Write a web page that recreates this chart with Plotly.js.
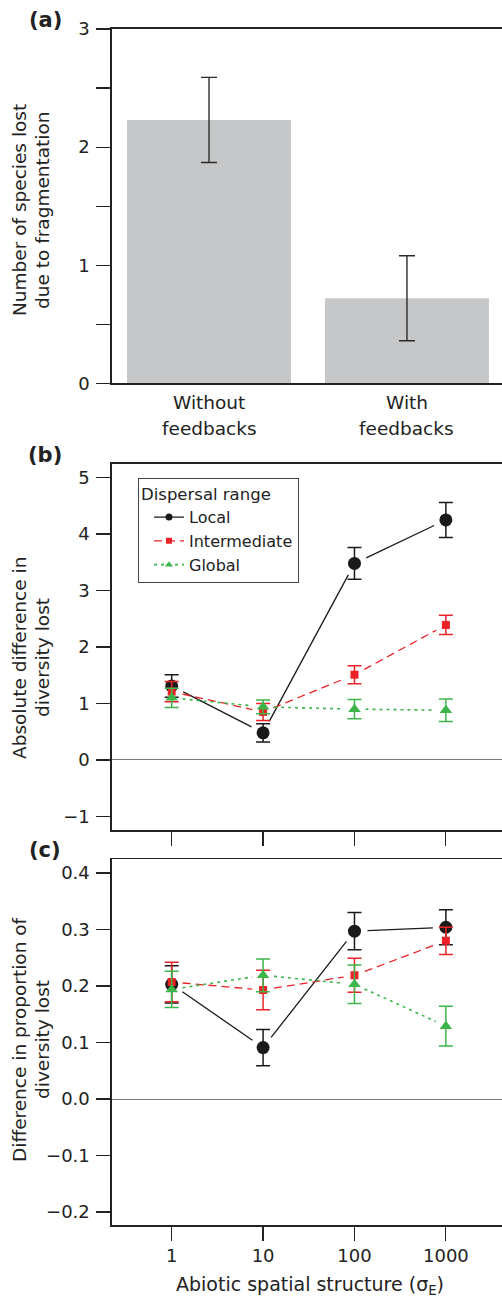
<!DOCTYPE html>
<html>
<head>
<meta charset="utf-8">
<script src="https://cdn.plot.ly/plotly-3.0.1.min.js"></script>
<style>
  html, body { margin: 0; padding: 0; background: #fff; overflow: hidden; }
  #chart { width: 502px; height: 1297px; }
</style>
</head>
<body>
<div id="chart"></div>
<script>
// ---------- data ----------
const barCats = ['Without feedbacks', 'With feedbacks'];
const barCatLines = [['Without', 'feedbacks'], ['With', 'feedbacks']];
const barVals = [2.23, 0.72];
const barErr = [0.36, 0.36];

const sigmaE = [1, 10, 100, 1000];
const sigmaLabels = ['1', '10', '100', '1000'];

const absLocal = [1.31, 0.48, 3.48, 4.25];
const absLocalErr = [0.20, 0.16, 0.28, 0.31];
const absInter = [1.21, 0.85, 1.51, 2.39];
const absInterErr = [0.18, 0.15, 0.16, 0.17];
const absGlobal = [1.10, 0.94, 0.90, 0.88];
const absGlobalErr = [0.17, 0.12, 0.17, 0.20];

const propLocal = [0.203, 0.091, 0.297, 0.304];
const propLocalErr = [0.033, 0.032, 0.033, 0.031];
const propInter = [0.207, 0.193, 0.219, 0.280];
const propInterErr = [0.035, 0.035, 0.030, 0.024];
const propGlobal = [0.194, 0.219, 0.203, 0.129];
const propGlobalErr = [0.032, 0.029, 0.034, 0.035];

const seriesNames = ['Local', 'Intermediate', 'Global'];

// ---------- layout geometry ----------
const W = 502, H = 1297;
const FONT = 'DejaVu Sans, Arial, sans-serif';
const INK = '#222222';
const xDom = [112 / W, 1];
const domA = [1 - 383.3 / H, 1 - 29 / H];
const domB = [1 - 830 / H, 1 - 464 / H];
const domC = [1 - 1225 / H, 1 - 859.3 / H];
const xRangeA = [-0.49, 1.48];
const xRangeLog = [-0.653, 3.614];
const yRangeB = [-1.24, 5.24];
const yRangeC = [-0.223, 0.4243];

const colors = { Local: '#1a1a1a', Intermediate: '#ec2227', Global: '#3db54a' };
const dashes = { Local: 'solid', Intermediate: '8px,5px', Global: '3px,4px' };
const symbols = { Local: 'circle', Intermediate: 'square', Global: 'triangle-up' };
const msize = { Local: 13, Intermediate: 8, Global: 11 };
const gaps = { Local: 13, Intermediate: 11, Global: 11 };

// shorten each line segment near the points (type="b" look)
function gapped(xs, ys, yr, dom, gap) {
  const pw = W * (xDom[1] - xDom[0]);
  const ph = H * (dom[1] - dom[0]);
  const xr = xRangeLog;
  const ox = [], oy = [];
  for (let i = 0; i < xs.length - 1; i++) {
    const p0x = (Math.log10(xs[i]) - xr[0]) / (xr[1] - xr[0]) * pw;
    const p0y = (ys[i] - yr[0]) / (yr[1] - yr[0]) * ph;
    const p1x = (Math.log10(xs[i + 1]) - xr[0]) / (xr[1] - xr[0]) * pw;
    const p1y = (ys[i + 1] - yr[0]) / (yr[1] - yr[0]) * ph;
    const dx = p1x - p0x, dy = p1y - p0y;
    const L = Math.hypot(dx, dy);
    if (L <= 2 * gap) continue;
    const ux = dx / L, uy = dy / L;
    const pts = [[p0x + ux * gap, p0y + uy * gap], [p1x - ux * gap, p1y - uy * gap]];
    pts.forEach(p => {
      ox.push(Math.pow(10, xr[0] + p[0] / pw * (xr[1] - xr[0])));
      oy.push(yr[0] + p[1] / ph * (yr[1] - yr[0]));
    });
    ox.push(null); oy.push(null);
  }
  return { x: ox, y: oy };
}

const traces = [];

// panel (a) bars
traces.push({
  type: 'bar', x: barCats, y: barVals, xaxis: 'x', yaxis: 'y',
  width: 0.828, marker: { color: '#c6c7c9', line: { width: 0 } },
  error_y: { type: 'data', array: barErr, color: '#2a2a2a', thickness: 1.4, width: 8 },
  showlegend: false, hoverinfo: 'skip'
});

function addPanel(vals, errs, yr, dom, xa, ya) {
  seriesNames.forEach((nm, k) => {
    const g = gapped(sigmaE, vals[k], yr, dom, gaps[nm]);
    traces.push({
      type: 'scatter', mode: 'lines', x: g.x, y: g.y, xaxis: xa, yaxis: ya,
      line: { color: colors[nm], width: nm === 'Global' ? 1.6 : 1.3, dash: dashes[nm] },
      connectgaps: false, showlegend: false, hoverinfo: 'skip'
    });
  });
  seriesNames.forEach((nm, k) => {
    traces.push({
      type: 'scatter', mode: 'markers', x: sigmaE, y: vals[k], xaxis: xa, yaxis: ya,
      marker: { color: colors[nm], symbol: symbols[nm], size: msize[nm], line: { width: 0 } },
      error_y: { type: 'data', array: errs[k], color: colors[nm], thickness: 1.5, width: 7 },
      showlegend: false, hoverinfo: 'skip'
    });
  });
}

addPanel([absLocal, absInter, absGlobal], [absLocalErr, absInterErr, absGlobalErr], yRangeB, domB, 'x2', 'y2');
addPanel([propLocal, propInter, propGlobal], [propLocalErr, propInterErr, propGlobalErr], yRangeC, domC, 'x3', 'y3');

// legend-only entries
const legSize = { Local: 7, Intermediate: 6, Global: 7 };
seriesNames.forEach(nm => {
  traces.push({
    type: 'scatter', mode: 'lines+markers', name: nm, x: [null], y: [null], xaxis: 'x2', yaxis: 'y2',
    line: { color: colors[nm], width: nm === 'Global' ? 1.6 : 1.3, dash: dashes[nm] },
    marker: { color: colors[nm], symbol: symbols[nm], size: legSize[nm] },
    showlegend: true, hoverinfo: 'skip'
  });
});

const tickCommon = {
  ticks: 'outside', ticklen: 14, tickwidth: 1.2, tickcolor: INK,
  showline: true, linecolor: INK, linewidth: 1.6,
  showgrid: false, zeroline: false,
  tickfont: { family: FONT, size: 18, color: INK }
};

const layout = {
  width: W, height: H,
  margin: { l: 0, r: 0, t: 0, b: 0, pad: 0 },
  paper_bgcolor: '#fff', plot_bgcolor: '#fff',
  font: { family: FONT, color: INK },
  showlegend: true,
  legend: {
    x: 138 / W, y: 1 - 477.7 / H, xanchor: 'left', yanchor: 'top',
    xref: 'paper', yref: 'paper',
    bgcolor: '#fff', bordercolor: '#444', borderwidth: 1,
    font: { family: FONT, size: 16, color: INK },
    title: { text: 'Dispersal range', font: { family: FONT, size: 16.5, color: INK } },
    itemwidth: 30, tracegroupgap: 0, indentation: 10
  },
  xaxis: Object.assign({}, tickCommon, {
    domain: xDom, anchor: 'y', type: 'category', range: xRangeA,
    ticks: '', mirror: true, showticklabels: false
  }),
  yaxis: Object.assign({}, tickCommon, {
    domain: domA, anchor: 'x', range: [0, 3],
    tickvals: [0, 1, 2, 3],
    minor: { tickvals: [0.5, 1.5, 2.5], ticks: 'outside', ticklen: 14, tickwidth: 1.2, tickcolor: INK, showgrid: false },
    ticklabelstandoff: 3
  }),
  xaxis2: Object.assign({}, tickCommon, {
    domain: xDom, anchor: 'y2', type: 'log', range: xRangeLog,
    tickvals: sigmaE, ticktext: sigmaLabels, showticklabels: false, mirror: true
  }),
  yaxis2: Object.assign({}, tickCommon, {
    domain: domB, anchor: 'x2', range: yRangeB,
    tickvals: [-1, 0, 1, 2, 3, 4, 5], zeroline: true, zerolinecolor: '#7a7a7a', zerolinewidth: 1,
    ticklabelstandoff: 3
  }),
  xaxis3: Object.assign({}, tickCommon, {
    domain: xDom, anchor: 'y3', type: 'log', range: xRangeLog,
    tickvals: sigmaE, ticktext: sigmaLabels, mirror: true, ticklabelstandoff: 0
  }),
  yaxis3: Object.assign({}, tickCommon, {
    domain: domC, anchor: 'x3', range: yRangeC,
    tickvals: [-0.2, -0.1, 0, 0.1, 0.2, 0.3, 0.4], tickformat: '.1f',
    zeroline: true, zerolinecolor: '#7a7a7a', zerolinewidth: 1,
    ticklabelstandoff: 3
  }),
  annotations: []
};

function ann(text, px, py, opts) {
  layout.annotations.push(Object.assign({
    text: text, xref: 'paper', yref: 'paper', x: px / W, y: 1 - py / H,
    xanchor: 'center', yanchor: 'middle', showarrow: false,
    font: { family: FONT, size: 18.5, color: INK }
  }, opts || {}));
}

// category labels of panel (a), one line each, placed on the category axis
barCats.forEach((c, i) => {
  barCatLines[i].forEach((ln, j) => {
    layout.annotations.push({
      text: ln, xref: 'x', yref: 'paper', x: c, y: 1 - (402 + 26 * j) / H,
      xanchor: 'center', yanchor: 'middle', showarrow: false,
      font: { family: FONT, size: 18.5, color: INK }
    });
  });
});

// panel labels
ann('<b>(a)</b>', 45, 20, { font: { family: FONT, size: 21, color: INK } });
ann('<b>(b)</b>', 45, 455, { font: { family: FONT, size: 21, color: INK } });
ann('<b>(c)</b>', 45, 850, { font: { family: FONT, size: 21, color: INK } });

// y titles
ann('Number of species lost', 19, 210, { textangle: -90 });
ann('due to fragmentation', 42, 210, { textangle: -90 });
ann('Absolute difference in', 19, 658, { textangle: -90 });
ann('diversity lost', 42, 658, { textangle: -90 });
ann('Difference in proportion of', 19, 1040, { textangle: -90 });
ann('diversity lost', 42, 1040, { textangle: -90 });

// x title
ann('Abiotic spatial structure (σ<sub>E</sub>)', 309.5, 1285, { font: { family: FONT, size: 19, color: INK } });

Plotly.newPlot('chart', traces, layout, { staticPlot: true, displayModeBar: false });
</script>
</body>
</html>
